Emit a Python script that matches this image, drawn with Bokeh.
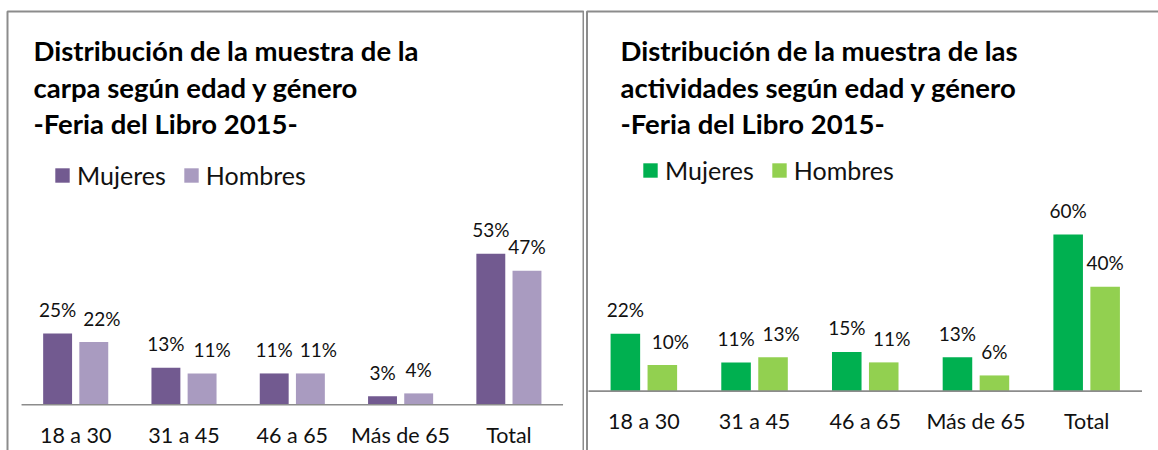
from bokeh.plotting import figure
from bokeh.layouts import row
from bokeh.models import Range1d, Legend, LegendItem, ColumnDataSource
from bokeh.core.properties import value
from bokeh.embed import file_html
from bokeh.resources import INLINE
import numpy as np

# ---------------- data ----------------
categories = ["18 a 30", "31 a 45", "46 a 65", "Más de 65", "Total"]
series = ["Mujeres", "Hombres"]

carpa_mujeres = [25, 13, 11, 3, 53]
carpa_hombres = [22, 11, 11, 4, 47]

actividades_mujeres = [22, 11, 15, 13, 60]
actividades_hombres = [10, 13, 11, 6, 40]

title_carpa = ["Distribución de la muestra de la",
               "carpa según edad y género",
               "-Feria del Libro 2015-"]
title_actividades = ["Distribución de la muestra de las",
                     "actividades según edad y género",
                     "-Feria del Libro 2015-"]

# label nudges (px) of the "Hombres" value labels, as placed in the original
nudge_carpa = [8, 10, 8, 0, 0]
nudge_actividades = [8, 8, 8, 0, 0]

FONT = "Lato"
PAGE_TOP = 0
H = 450
BOX = "#8c8c8c"


def make_chart(fig_left, width, c0, step, base, scale, mujeres, hombres, nudge,
               colors, title_lines, title_x, legend_left, legend_yc, cat_dy,
               box_left, box_right):
    def X(px):
        return (px - c0) / step

    def Y(py):
        return (base - py) / scale

    p = figure(width=width, height=H, output_backend="svg", toolbar_location=None,
               x_axis_type=None, y_axis_type=None,
               x_range=Range1d(X(fig_left), X(fig_left + width)),
               y_range=Range1d(Y(PAGE_TOP + H), Y(PAGE_TOP)),
               min_border=0, min_border_left=0, min_border_right=0,
               min_border_top=0, min_border_bottom=0)
    p.outline_line_color = None
    p.background_fill_color = "white"
    p.border_fill_color = "white"

    # chart box (open at the bottom, as in the cropped reference)
    if box_right is not None:
        p.line(x=[X(box_left), X(box_left), X(box_right), X(box_right)],
               y=[Y(470), Y(11), Y(11), Y(470)], line_color=BOX, line_width=2)
    else:
        p.line(x=[X(box_left), X(box_left), X(1200)],
               y=[Y(470), Y(11), Y(11)], line_color=BOX, line_width=2)

    n = len(categories)
    idx = np.arange(n)
    off = 0.167
    bw = 0.267
    src = ColumnDataSource(dict(
        xm=idx - off, xh=idx + off, m=mujeres, h=hombres,
        lm=[f"{v}%" for v in mujeres], lh=[f"{v}%" for v in hombres],
        dm=[0] * n, dh=nudge,
        xc=idx, cat=categories))

    rm = p.vbar(x="xm", top="m", bottom=0, width=bw, source=src,
                fill_color=colors[0], line_color=None)
    rh = p.vbar(x="xh", top="h", bottom=0, width=bw, source=src,
                fill_color=colors[1], line_color=None)

    # baseline axis
    p.segment(x0=[-0.5], x1=[n - 0.5], y0=[0], y1=[0], line_color=BOX, line_width=1.6)

    # value labels
    for xcol, lcol, ycol, dcol in (("xm", "lm", "m", "dm"), ("xh", "lh", "h", "dh")):
        p.text(x=xcol, y=ycol, text=lcol, source=src, text_align="center",
               text_baseline="alphabetic", y_offset=-24, x_offset=dcol,
               text_font=value(FONT), text_font_size="19px", text_color="#111111")

    # category labels
    p.text(x="xc", y=0, text="cat", source=src, text_align="center",
           text_baseline="alphabetic", y_offset=cat_dy,
           text_font=value(FONT), text_font_size="21.5px", text_color="#111111")

    # title
    p.text(x=[X(title_x)] * 3, y=[Y(49.5), Y(86.5), Y(123)], text=title_lines,
           text_align="left", text_baseline="alphabetic",
           text_font=value(FONT), text_font_style="bold",
           text_font_size="27.5px", text_color="#000000")

    legend = Legend(items=[LegendItem(label=series[0], renderers=[rm]),
                           LegendItem(label=series[1], renderers=[rh])],
                    orientation="horizontal",
                    location=(legend_left - fig_left, PAGE_TOP + H - legend_yc - 15),
                    glyph_width=18, glyph_height=18, label_standoff=6, spacing=16,
                    padding=0, margin=0, border_line_color=None,
                    background_fill_alpha=0,
                    label_text_font=FONT, label_text_font_size="25px",
                    label_text_color="#111111")
    p.add_layout(legend)
    return p


p1 = make_chart(fig_left=0, width=584, c0=75.2, step=108.3, base=404.3, scale=2.85,
                mujeres=carpa_mujeres, hombres=carpa_hombres, nudge=nudge_carpa,
                colors=["#725A90", "#A99BC0"], title_lines=title_carpa, title_x=33,
                legend_left=53, legend_yc=175, cat_dy=30, box_left=7, box_right=583)
p2 = make_chart(fig_left=584, width=574, c0=643.35, step=110.7, base=390.6, scale=2.61,
                mujeres=actividades_mujeres, hombres=actividades_hombres,
                nudge=nudge_actividades,
                colors=["#00B050", "#92D050"], title_lines=title_actividades, title_x=620,
                legend_left=641, legend_yc=169.5, cat_dy=30, box_left=586.5,
                box_right=None)

layout = row(p1, p2)
open("out.html", "w").write(file_html(layout, INLINE))
